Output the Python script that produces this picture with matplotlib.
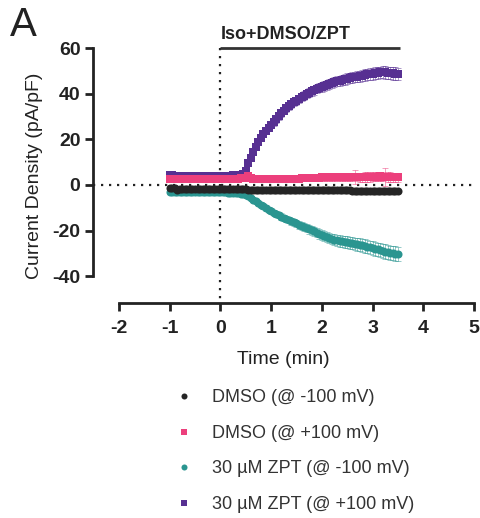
import numpy as np
import matplotlib
matplotlib.use("Agg")
import matplotlib.pyplot as plt

plt.rcParams['font.family'] = ['Liberation Sans', 'DejaVu Sans']
plt.rcParams['axes.unicode_minus'] = False

# time points (min), one every 3 s
t = np.linspace(-1.0, 3.5, 91)

# DMSO @ -100 mV
dmso_neg = [-1.3, -1.4, -1.5, -2.0, -1.6, -1.6, -1.6, -1.7, -1.7, -1.7,
            -1.7, -1.7, -1.8, -1.8, -1.8, -1.8, -1.8, -1.8, -1.8, -1.8,
            -1.8, -1.8, -1.9, -1.9, -1.9, -1.9, -1.9, -1.9, -1.9, -1.9,
            -1.9, -2.0, -2.0, -2.0, -2.0, -2.0, -2.0, -2.0, -2.0, -2.0,
            -2.1, -2.1, -2.1, -2.4, -2.1, -2.1, -2.1, -2.1, -2.1, -2.2,
            -2.2, -2.2, -2.2, -2.2, -2.2, -2.2, -2.3, -2.3, -2.3, -2.3,
            -2.3, -2.3, -2.3, -2.3, -2.4, -2.4, -2.4, -2.4, -2.4, -2.4,
            -2.4, -2.4, -2.5, -2.5, -2.5, -2.5, -2.5, -2.5, -2.5, -2.5,
            -2.6, -2.6, -2.6, -2.6, -2.6, -2.6, -2.6, -2.6, -2.6, -2.6, -2.6]
dmso_neg_err = [0.5, 0.5, 0.5, 0.5, 0.5, 0.5, 0.5, 0.5, 0.5, 0.5,
                0.5, 0.5, 0.5, 0.5, 0.5, 0.5, 0.5, 0.5, 0.5, 0.5,
                0.5, 0.5, 0.5, 0.5, 0.5, 0.5, 0.5, 0.5, 0.5, 0.5,
                0.5, 0.5, 0.5, 0.5, 0.5, 0.5, 0.5, 0.5, 0.5, 0.5,
                0.5, 0.5, 0.5, 0.5, 0.5, 0.5, 0.5, 0.5, 0.5, 0.5,
                0.5, 0.5, 0.5, 0.5, 0.5, 0.5, 0.5, 0.5, 0.5, 0.5,
                0.6, 0.6, 0.6, 0.6, 0.6, 0.6, 0.6, 0.6, 0.6, 0.6,
                0.6, 0.6, 0.6, 0.6, 0.6, 0.6, 0.6, 0.6, 0.6, 0.6,
                0.6, 0.6, 0.6, 0.6, 0.6, 0.6, 0.6, 0.6, 0.6, 0.6, 0.6]

# DMSO @ +100 mV
dmso_pos = [2.7, 2.6, 2.6, 2.6, 2.5, 2.5, 2.5, 2.5, 2.5, 2.5,
            2.5, 2.5, 2.5, 2.5, 2.5, 2.5, 2.6, 2.6, 2.6, 2.6,
            2.6, 2.6, 2.6, 2.7, 2.7, 2.7, 2.8, 2.8, 2.9, 3.0,
            3.2, 4.0, 2.9, 2.7, 2.6, 2.6, 2.5, 2.5, 2.5, 2.5,
            2.5, 2.5, 2.5, 2.5, 2.5, 2.6, 2.6, 2.6, 2.7, 2.7,
            2.8, 2.8, 2.9, 2.9, 3.0, 3.0, 3.1, 3.1, 3.2, 3.2,
            3.3, 3.3, 3.3, 3.4, 3.4, 3.4, 3.5, 3.5, 3.5, 3.4,
            3.4, 3.4, 3.5, 3.5, 3.5, 3.4, 3.4, 3.5, 3.5, 3.5,
            3.6, 3.6, 3.7, 3.8, 3.7, 3.6, 3.5, 3.4, 3.4, 3.3, 3.3]
dmso_pos_err = [0.8, 0.8, 0.8, 0.8, 0.8, 0.8, 0.8, 0.8, 0.8, 0.8,
                0.8, 0.8, 0.8, 0.8, 0.8, 0.8, 0.8, 0.8, 0.8, 0.8,
                0.8, 0.8, 0.8, 0.8, 0.9, 0.9, 0.9, 0.9, 1.0, 1.0,
                1.2, 1.5, 1.0, 1.0, 1.0, 1.0, 1.0, 1.0, 1.0, 1.0,
                1.0, 1.0, 1.0, 1.0, 1.1, 1.1, 1.1, 1.1, 1.2, 1.2,
                1.2, 1.2, 1.3, 1.3, 1.3, 1.4, 1.4, 1.4, 1.5, 1.5,
                1.5, 1.5, 1.6, 1.6, 1.7, 1.8, 1.7, 1.7, 1.7, 1.8,
                1.8, 1.8, 1.9, 2.9, 1.9, 1.9, 1.9, 2.0, 2.0, 2.0,
                2.0, 2.0, 2.1, 2.1, 2.1, 3.9, 2.1, 2.1, 2.0, 2.0, 2.0]

# 30 uM ZPT @ -100 mV
zpt_neg = [-3.0, -3.0, -3.0, -3.0, -2.9, -2.9, -2.9, -2.9, -2.9, -2.9,
           -2.9, -2.9, -2.9, -3.0, -3.0, -3.0, -3.0, -3.0, -3.1, -3.1,
           -3.1, -3.2, -3.2, -3.3, -3.3, -3.4, -3.5, -3.6, -3.8, -4.0,
           -4.4, -5.0, -5.7, -6.4, -7.1, -7.9, -8.6, -9.4, -10.1, -10.8,
           -11.5, -12.1, -12.7, -13.3, -13.9, -14.4, -14.9, -15.4, -15.9, -16.4,
           -16.9, -17.4, -17.9, -18.4, -18.9, -19.4, -19.9, -20.4, -20.9, -21.4,
           -21.9, -22.4, -22.9, -23.3, -23.7, -24.0, -24.3, -24.6, -24.8, -25.0,
           -25.2, -25.4, -25.6, -25.8, -26.0, -26.2, -26.5, -26.8, -27.1, -27.4,
           -27.7, -28.0, -28.3, -28.6, -28.9, -29.2, -29.5, -29.7, -29.9, -30.1, -30.2]
zpt_neg_err = [0.5, 0.5, 0.5, 0.5, 0.5, 0.5, 0.5, 0.5, 0.5, 0.5,
               0.5, 0.5, 0.5, 0.5, 0.5, 0.5, 0.5, 0.5, 0.5, 0.5,
               0.5, 0.5, 0.5, 0.5, 0.5, 0.6, 0.6, 0.6, 0.6, 0.6,
               0.7, 0.7, 0.8, 0.8, 0.9, 0.9, 1.0, 1.0, 1.1, 1.1,
               1.2, 1.2, 1.3, 1.3, 1.4, 1.4, 1.5, 1.5, 1.6, 1.6,
               1.7, 1.7, 1.8, 1.8, 1.9, 1.9, 2.0, 2.0, 2.1, 2.1,
               2.2, 2.2, 2.3, 2.3, 2.4, 2.4, 2.5, 2.5, 2.6, 2.6,
               2.6, 2.7, 2.7, 2.7, 2.8, 2.8, 2.8, 2.9, 2.9, 2.9,
               3.0, 3.0, 3.0, 3.0, 3.1, 3.1, 3.1, 3.1, 3.2, 3.2, 3.2]

# 30 uM ZPT @ +100 mV
zpt_pos = [4.2, 4.2, 4.1, 4.1, 4.0, 4.0, 4.0, 4.0, 3.9, 3.9,
           3.9, 3.9, 3.8, 3.8, 3.8, 3.8, 3.8, 3.8, 3.9, 3.9,
           3.9, 3.9, 4.0, 4.0, 4.1, 4.2, 4.3, 4.4, 4.6, 4.8,
           6.0, 9.5, 12.0, 14.5, 16.8, 18.8, 20.6, 22.4, 23.8, 25.1,
           26.3, 27.5, 28.8, 30.1, 31.4, 32.6, 33.6, 34.5, 35.4, 36.3,
           37.0, 37.8, 38.5, 39.2, 39.9, 40.5, 41.1, 41.6, 42.2, 42.7,
           43.1, 43.5, 43.9, 44.3, 44.7, 45.1, 45.5, 45.8, 46.1, 46.4,
           46.7, 47.0, 47.2, 47.4, 47.6, 47.8, 48.0, 48.2, 48.5, 48.7,
           48.9, 49.1, 49.3, 49.4, 49.5, 49.4, 49.3, 49.1, 49.0, 48.8, 48.7]
zpt_pos_err = [0.8, 0.8, 0.8, 0.8, 0.8, 0.8, 0.8, 0.8, 0.8, 0.8,
               0.8, 0.8, 0.8, 0.8, 0.8, 0.8, 0.8, 0.8, 0.8, 0.8,
               0.8, 0.8, 0.8, 0.8, 0.8, 0.8, 0.8, 0.8, 0.8, 0.8,
               0.9, 1.0, 1.0, 1.1, 1.1, 1.2, 1.2, 1.3, 1.3, 1.4,
               1.4, 1.5, 1.5, 1.5, 1.6, 1.6, 1.6, 1.7, 1.7, 1.7,
               1.8, 1.8, 1.8, 1.9, 1.9, 1.9, 2.0, 2.0, 2.0, 2.0,
               2.1, 2.1, 2.1, 2.1, 2.2, 2.2, 2.2, 2.2, 2.3, 2.3,
               2.3, 2.3, 2.4, 2.4, 2.4, 2.4, 2.5, 2.5, 2.5, 2.5,
               2.6, 2.6, 2.6, 2.6, 2.7, 2.7, 2.7, 2.7, 2.8, 2.8, 2.8]

labels = ["DMSO (@ -100 mV)", "DMSO (@ +100 mV)",
          "30 µM ZPT (@ -100 mV)", "30 µM ZPT (@ +100 mV)"]
c_black = "#252525"
c_pink = "#ec3f7c"
c_teal = "#2a9590"
c_purple = "#573092"

fig = plt.figure(figsize=(4.81, 5.18), dpi=100)
ax = fig.add_axes([93 / 481, 215 / 518, 381 / 481, 254.7 / 518])
ax.set_xlim(-2.51, 5.0)
ax.set_ylim(-51.8, 60)

# reference lines
ax.axhline(0, color="#222222", lw=1.6, ls=(0, (1, 2.6)), zorder=1, clip_on=False)
ax.plot([0, 0], [60, -50], color="#222222", lw=1.6, ls=(0, (1, 2.6)), zorder=1, clip_on=False)

def series(y, e, color, marker, ms, label, z):
    ax.errorbar(t, y, yerr=e, fmt="none", ecolor=color, elinewidth=0.7,
                capsize=2.2, capthick=0.7, alpha=0.5, zorder=z)
    h, = ax.plot(t, y, ls="none", marker=marker, ms=ms, color=color,
                 mec=color, mew=0, label=label, zorder=z + 0.5)
    return h

h4 = series(zpt_pos, zpt_pos_err, c_purple, "s", 5.8, labels[3], 2)
h2 = series(dmso_pos, dmso_pos_err, c_pink, "s", 5.8, labels[1], 3)
h3 = series(zpt_neg, zpt_neg_err, c_teal, "o", 5.8, labels[2], 4)
h1 = series(dmso_neg, dmso_neg_err, c_black, "o", 5.8, labels[0], 5)

# treatment bar
ax.plot([0, 3.55], [60, 60], color="#333333", lw=2, clip_on=False, solid_capstyle="butt")
ax.text(0, 62.5, "Iso+DMSO/ZPT", fontsize=13, fontweight="bold", color="#222222",
        ha="left", va="bottom")

# prism-like axes
for s in ["top", "right"]:
    ax.spines[s].set_visible(False)
for s in ["left", "bottom"]:
    ax.spines[s].set_linewidth(2)
    ax.spines[s].set_color("#222222")
ax.spines["left"].set_bounds(-40, 60)
ax.spines["bottom"].set_bounds(-2, 5)
ax.set_xticks(range(-2, 6))
ax.set_yticks(range(-40, 61, 20))
ax.tick_params(width=2, length=6, color="#222222", labelsize=14)
ax.tick_params(axis="x", pad=6)
ax.tick_params(axis="y", pad=3)
for lab in ax.get_xticklabels() + ax.get_yticklabels():
    lab.set_fontweight("bold")
    lab.set_color("#222222")
ax.set_xlabel("Time (min)", fontsize=14, color="#222222", labelpad=10)
ax.set_ylabel("Current Density (pA/pF)", fontsize=14, color="#222222", labelpad=7)

fig.text(10 / 481, 1 - 36 / 518, "A", fontsize=29, color="#222222")

leg = fig.legend(handles=[h1, h2, h3, h4], labels=labels, loc="upper left",
                 bbox_to_anchor=(166 / 481, 1 - 382 / 518), frameon=False,
                 fontsize=13, handlelength=1.2, handletextpad=0.95, labelspacing=1.03,
                 borderaxespad=0, markerscale=0.75)
for txt in leg.get_texts():
    txt.set_color("#333333")

fig.savefig("out.png", dpi=100)
